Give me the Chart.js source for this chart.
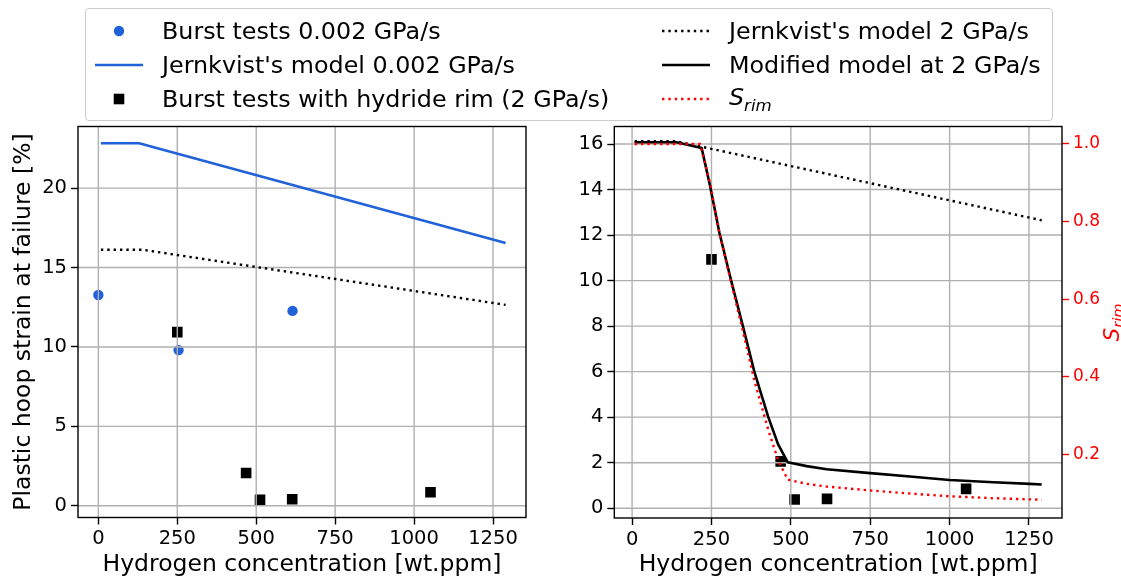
<!DOCTYPE html>
<html>
<head>
<meta charset="utf-8">
<script src="https://cdn.jsdelivr.net/npm/chart.js@4.4.1/dist/chart.umd.min.js"></script>
<style>
  html, body { margin: 0; padding: 0; background: #fff; }
  body { width: 1121px; height: 583px; position: relative; overflow: hidden; font-family: 'DejaVu Sans', sans-serif; }
  #left  { position: absolute; left: 0;     top: 0; }
  #right { position: absolute; left: 560px; top: 0; }
  #legend {
    position: absolute; left: 85px; top: 8px; width: 968px; height: 113px;
    box-sizing: border-box; border: 1px solid #cccccc; border-radius: 4px;
    background: rgba(255,255,255,0.8); color: #000; font-size: 23.8px;
  }
  .item { position: absolute; height: 30px; display: flex; align-items: center; white-space: nowrap; }
  .item svg { display: block; }
  .item span { margin-left: 19px; }
  .item i sub { font-size: 70%; }
</style>
</head>
<body>
<canvas id="left" width="560" height="583"></canvas>
<canvas id="right" width="561" height="583"></canvas>
<div id="legend"></div>
<script>
// ---- tick values ----
const ppmTicks = [0, 250, 500, 750, 1000, 1250];
const strainTicksA = [0, 5, 10, 15, 20];
const strainTicksB = [0, 2, 4, 6, 8, 10, 12, 14, 16];
const srimTicks = [0.2, 0.4, 0.6, 0.8, 1.0];

// ---- burst tests, 0.002 GPa/s ----
const slowH = [0, 254, 615];
const slowStrain = [13.27, 9.8, 12.27];

// ---- burst tests with hydride rim, 2 GPa/s ----
const rimH = [250, 468, 512, 614, 1052];
const rimStrain = [10.93, 2.06, 0.38, 0.41, 0.85];

// ---- Jernkvist's model, 0.002 GPa/s ----
const jSlowH = [8, 129, 1290];
const jSlowStrain = [22.83, 22.83, 16.55];

// ---- Jernkvist's model, 2 GPa/s ----
const jFastH = [8, 140, 1290];
const jFastStrain = [16.12, 16.12, 12.65];

// ---- modified model, 2 GPa/s ----
const modH = [8, 140, 219, 245, 275, 312, 349, 385, 429, 460, 490, 550, 613, 750, 875, 1000, 1138, 1253, 1290];
const modStrain = [16.08, 16.08, 15.83, 14.2, 12.1, 10.0, 8.0, 6.0, 4.0, 2.8, 2.02, 1.85, 1.71, 1.54, 1.39, 1.24, 1.14, 1.07, 1.04];

// ---- S_rim ----
const srimH = [8, 214, 245, 275, 312, 349, 385, 429, 460, 490, 550, 613, 750, 875, 1000, 1138, 1253, 1290];
const srimVal = [1.0, 1.0, 0.901, 0.77, 0.643, 0.518, 0.391, 0.263, 0.185, 0.135, 0.124, 0.117, 0.107, 0.099, 0.092, 0.087, 0.084, 0.083];

// ---- styling ----
const FONT = 'DejaVu Sans';
const BLUE = '#2161d9';
const RED = '#ff0000';
const GRID = '#b0b0b0';
const DOT = [2.4, 3.96];

const pts = (xs, ys) => xs.map((x, i) => ({ x, y: ys[i] }));

const scatterSet = (label, xs, ys, color, style, r, order) => ({
  type: 'scatter', label, data: pts(xs, ys), order,
  pointStyle: style, pointRadius: r, pointHoverRadius: r,
  backgroundColor: color, borderColor: color, borderWidth: 0
});
const lineSet = (label, xs, ys, color, dash, order, yAxisID) => ({
  type: 'line', label, data: pts(xs, ys), order, yAxisID: yAxisID || 'y',
  borderColor: color, backgroundColor: color, borderWidth: dash ? 2.4 : 2.6,
  borderDash: dash || [], borderCapStyle: 'butt', borderJoinStyle: 'round',
  pointRadius: 0, tension: 0, fill: false
});

// gridlines go above the scatter markers but below the model curves; a full frame is drawn on top
const panelPlugin = {
  id: 'panel',
  afterDatasetDraw(chart, args, opts) {
    if (args.index !== opts.gridAfter) return;
    const { ctx, chartArea: a } = chart;
    const xs = chart.scales.x, ys = chart.scales.y;
    ctx.save();
    ctx.strokeStyle = GRID;
    ctx.lineWidth = 1.4;
    ctx.beginPath();
    xs.ticks.forEach(t => { const p = xs.getPixelForValue(t.value); ctx.moveTo(p, a.top); ctx.lineTo(p, a.bottom); });
    ys.ticks.forEach(t => { const p = ys.getPixelForValue(t.value); ctx.moveTo(a.left, p); ctx.lineTo(a.right, p); });
    ctx.stroke();
    ctx.restore();
  },
  afterDatasetsDraw(chart) {
    const { ctx, chartArea: a } = chart;
    ctx.save();
    ctx.strokeStyle = '#000';
    ctx.lineWidth = 1.4;
    ctx.strokeRect(a.left, a.top, a.right - a.left, a.bottom - a.top);
    ctx.restore();
  },
  afterDraw(chart, args, opts) {
    if (!opts.srimTitle) return;
    const { ctx, chartArea: a } = chart;
    const big = 21, small = 14.7;
    ctx.save();
    ctx.fillStyle = RED;
    ctx.textBaseline = 'alphabetic';
    ctx.font = `italic ${big}px "${FONT}"`;
    const wS = ctx.measureText('S').width;
    ctx.font = `italic ${small}px "${FONT}"`;
    const wR = ctx.measureText('rim').width;
    const cy = (a.top + a.bottom) / 2;
    ctx.translate(opts.srimTitle, cy);
    ctx.rotate(-Math.PI / 2);
    const x0 = -(wS + wR) / 2;
    ctx.font = `italic ${big}px "${FONT}"`;
    ctx.fillText('S', x0, 7);
    ctx.font = `italic ${small}px "${FONT}"`;
    ctx.fillText('rim', x0 + wS, 11);
    ctx.restore();
  }
};

const tickFont = { family: FONT, size: 19.5 };
const titleFont = { family: FONT, size: 23.5 };

function xAxis(min, max, height) {
  return {
    type: 'linear', position: 'bottom', min, max,
    afterBuildTicks: s => { s.ticks = ppmTicks.map(v => ({ value: v })); },
    afterFit: s => { s.height = height; },
    ticks: { font: tickFont, color: '#000', padding: 3, maxRotation: 0, callback: v => String(v) },
    grid: { display: true, drawOnChartArea: false, drawTicks: true, tickLength: 7, tickColor: '#000', tickWidth: 1.4 },
    border: { display: false },
    title: { display: true, text: 'Hydrogen concentration [wt.ppm]', font: titleFont, color: '#000', padding: { top: 0, bottom: 4 } }
  };
}
function yAxis(min, max, ticks, width, title) {
  return {
    type: 'linear', position: 'left', min, max,
    afterBuildTicks: s => { s.ticks = ticks.map(v => ({ value: v })); },
    afterFit: s => { s.width = width; },
    ticks: { font: tickFont, color: '#000', padding: 4, callback: v => String(v) },
    grid: { display: true, drawOnChartArea: false, drawTicks: true, tickLength: 7, tickColor: '#000', tickWidth: 1.4 },
    border: { display: false },
    title: title ? { display: true, text: title, font: titleFont, color: '#000', padding: { top: 10, bottom: 0 } } : { display: false }
  };
}

const common = {
  responsive: false, animation: false, devicePixelRatio: 1,
  events: [],
  plugins: { legend: { display: false }, tooltip: { enabled: false } }
};

// left panel: both loading rates
new Chart(document.getElementById('left'), {
  data: {
    datasets: [
      scatterSet('Burst tests 0.002 GPa/s', slowH, slowStrain, BLUE, 'circle', 5.2, 4),
      scatterSet('Burst tests with hydride rim (2 GPa/s)', rimH, rimStrain, '#000', 'rect', 7.5, 3),
      lineSet("Jernkvist's model 0.002 GPa/s", jSlowH, jSlowStrain, BLUE, null, 1),
      lineSet("Jernkvist's model 2 GPa/s", jFastH, jFastStrain, '#000', DOT, 1)
    ]
  },
  options: Object.assign({}, common, {
    layout: { padding: { top: 126.5, right: 34, left: 0, bottom: 0 } },
    scales: {
      x: xAxis(-64.5, 1354.5, 65.5),
      y: yAxis(-0.74, 23.88, strainTicksA, 78, 'Plastic hoop strain at failure [%]')
    },
    plugins: Object.assign({}, common.plugins, { panel: { gridAfter: 1 } })
  }),
  plugins: [panelPlugin]
});

// right panel: 2 GPa/s with the hydride-rim factor on a second axis
new Chart(document.getElementById('right'), {
  data: {
    datasets: [
      scatterSet('Burst tests with hydride rim (2 GPa/s)', rimH, rimStrain, '#000', 'rect', 7.5, 3),
      lineSet('S_rim', srimH, srimVal, RED, DOT, 0, 'srim'),
      lineSet("Jernkvist's model 2 GPa/s", jFastH, jFastStrain, '#000', DOT, 1),
      lineSet('Modified model at 2 GPa/s', modH, modStrain, '#000', null, 2)
    ]
  },
  options: Object.assign({}, common, {
    layout: { padding: { top: 126.5, right: 0, left: 0, bottom: 0 } },
    scales: {
      x: xAxis(-56, 1354, 65),
      y: yAxis(-0.43, 16.77, strainTicksB, 54.3, null),
      srim: {
        type: 'linear', position: 'right', min: 0.036, max: 1.045,
        afterBuildTicks: s => { s.ticks = srimTicks.map(v => ({ value: v })); },
        afterFit: s => { s.width = 59; },
        ticks: { font: { family: FONT, size: 17 }, color: RED, padding: 4, callback: v => v.toFixed(1) },
        grid: { display: true, drawOnChartArea: false, drawTicks: true, tickLength: 7, tickColor: RED, tickWidth: 1.4 },
        border: { display: false },
        title: { display: false }
      }
    },
    plugins: Object.assign({}, common.plugins, { panel: { gridAfter: 0, srimTitle: 552 } })
  }),
  plugins: [panelPlugin]
});

// shared legend
const legendItems = [
  { left: 9,   top: 6.5,  kind: 'dot',    color: BLUE,  html: 'Burst tests 0.002 GPa/s' },
  { left: 9,   top: 40.5, kind: 'line',   color: BLUE,  html: "Jernkvist's model 0.002 GPa/s" },
  { left: 9,   top: 75,   kind: 'square', color: '#000', html: 'Burst tests with hydride rim (2 GPa/s)' },
  { left: 576, top: 6.5,  kind: 'dotted', color: '#000', html: "Jernkvist's model 2 GPa/s" },
  { left: 576, top: 40.5, kind: 'line',   color: '#000', html: 'Modified model at 2 GPa/s' },
  { left: 576, top: 75,   kind: 'dotted', color: RED,   html: '<i>S<sub>rim</sub></i>' }
];
const swatch = (kind, color) => {
  const w = 48, h = 20, cy = 10;
  let inner = '';
  if (kind === 'dot') inner = `<circle cx="${w / 2}" cy="${cy}" r="5.2" fill="${color}"/>`;
  else if (kind === 'square') inner = `<rect x="${w / 2 - 5.3}" y="${cy - 5.3}" width="10.6" height="10.6" fill="${color}"/>`;
  else if (kind === 'line') inner = `<line x1="0" y1="${cy}" x2="${w}" y2="${cy}" stroke="${color}" stroke-width="2.6"/>`;
  else inner = `<line x1="0" y1="${cy}" x2="${w}" y2="${cy}" stroke="${color}" stroke-width="2.4" stroke-dasharray="${DOT.join(' ')}"/>`;
  return `<svg width="${w}" height="${h}" viewBox="0 0 ${w} ${h}">${inner}</svg>`;
};
const legend = document.getElementById('legend');
legendItems.forEach(it => {
  const d = document.createElement('div');
  d.className = 'item';
  d.style.left = it.left + 'px';
  d.style.top = it.top + 'px';
  d.innerHTML = swatch(it.kind, it.color) + `<span>${it.html}</span>`;
  legend.appendChild(d);
});
</script>
</body>
</html>
